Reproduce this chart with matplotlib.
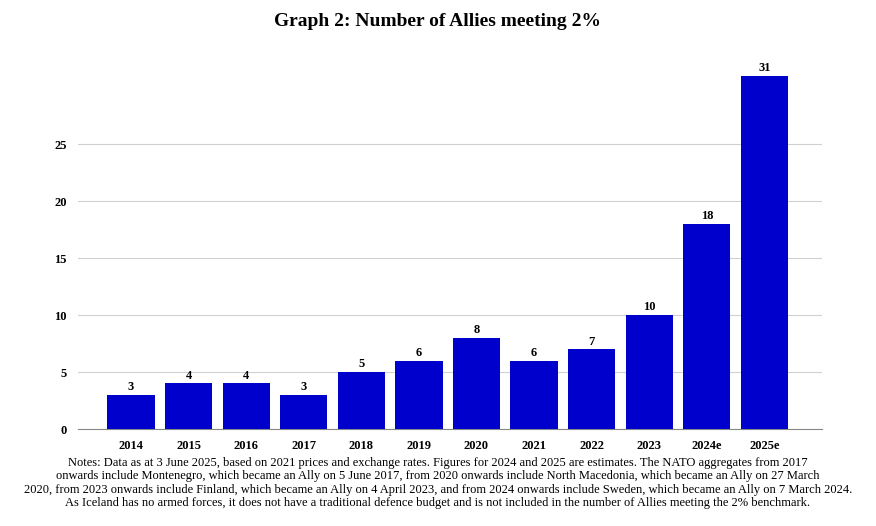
import matplotlib
matplotlib.use("Agg")
import matplotlib.pyplot as plt

years = ["2014","2015","2016","2017","2018","2019","2020","2021","2022","2023","2024e","2025e"]
allies = [3,4,4,3,5,6,8,6,7,10,18,31]
yticks = [0,5,10,15,20,25]

plt.rcParams["font.family"] = "Liberation Serif"
fig = plt.figure(figsize=(8.76,5.26), dpi=100)
W,H = 876,526
ax = fig.add_axes([78/W, 1-429/H, (822-78)/W, (429-60)/H])
x = list(range(len(years)))
ax.bar(x, allies, width=0.82, color="#0000CC", zorder=3)
for xi, v in zip(x, allies):
    ax.text(xi, v+0.15, str(v), ha="center", va="bottom", fontsize=9, fontweight="bold")
ax.set_xlim(-0.92, 12.0)
ax.set_ylim(0, 32.4)
ax.set_yticks(yticks)
ax.set_xticks(x)
ax.set_xticklabels(years, fontsize=9, fontweight="bold")
ax.set_yticklabels([str(t) for t in yticks], fontsize=9, fontweight="bold")
ax.grid(axis="y", color="#d0d0d0", linewidth=0.8, zorder=0)
for s in ["top","right","left"]:
    ax.spines[s].set_visible(False)
ax.spines["bottom"].set_color("#888888")
ax.tick_params(length=0, pad=8)
fig.text(0.5, 1-22/H, "Graph 2: Number of Allies meeting 2%", ha="center", va="center",
         fontsize=14, fontweight="bold")
notes = ("Notes: Data as at 3 June 2025, based on 2021 prices and exchange rates. Figures for 2024 and 2025 are estimates. The NATO aggregates from 2017\n"
         "onwards include Montenegro, which became an Ally on 5 June 2017, from 2020 onwards include North Macedonia, which became an Ally on 27 March\n"
         "2020, from 2023 onwards include Finland, which became an Ally on 4 April 2023, and from 2024 onwards include Sweden, which became an Ally on 7 March 2024.\n"
         "As Iceland has no armed forces, it does not have a traditional defence budget and is not included in the number of Allies meeting the 2% benchmark.")
fig.text(438/W, 1-483/H, notes, ha="center", va="center", fontsize=9, linespacing=1.15)
fig.savefig("out.png", dpi=100)
